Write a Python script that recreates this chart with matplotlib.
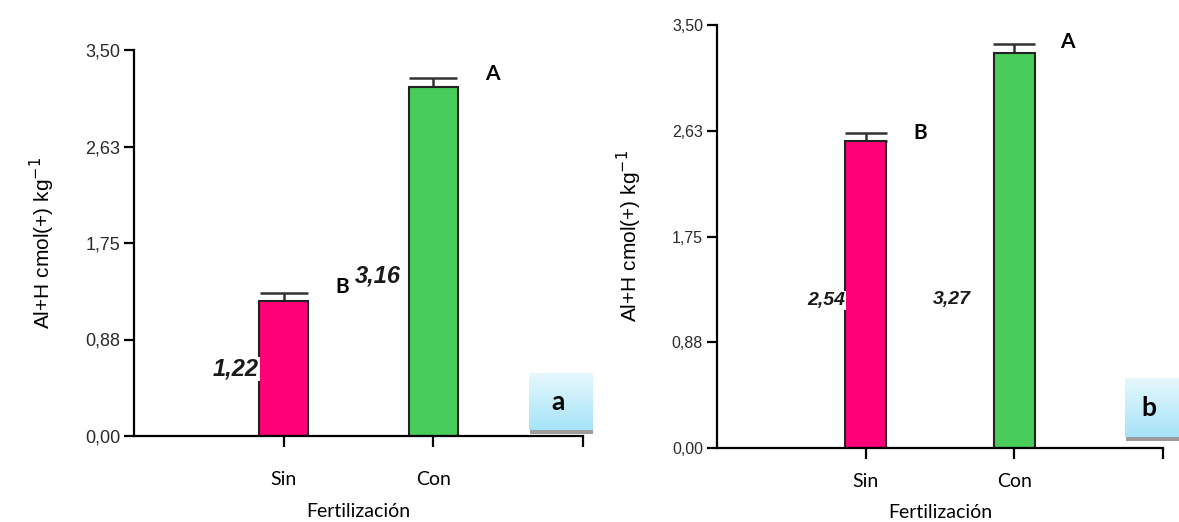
import numpy as np
import matplotlib
matplotlib.use("Agg")
import matplotlib.pyplot as plt
from matplotlib.patches import Rectangle

# Al+H by fertilization treatment, two sampling panels
categories = ["Sin", "Con"]
means_a = [1.22, 3.16]
errors_a = [0.08, 0.09]
letters_a = ["B", "A"]
means_b = [2.54, 3.27]
errors_b = [0.07, 0.07]
letters_b = ["B", "A"]

ytick_values = [0.0, 0.875, 1.75, 2.625, 3.5]
ytick_labels = ["0,00", "0,88", "1,75", "2,63", "3,50"]

bar_colors = ["#FF0078", "#48CD5A"]
W, H = 1179, 522

plt.rcParams["font.family"] = ["Liberation Sans", "DejaVu Sans"]
fig = plt.figure(figsize=(W / 100, H / 100), dpi=100)


def px_axes(x0, y0, x1, y1):
    """Axes from pixel box (left, top, right, bottom measured from top)."""
    return fig.add_axes([x0 / W, (H - y1) / H, (x1 - x0) / W, (y1 - y0) / H])


def draw_panel(ax, means, errors, letters, width, capsize, tick_fs, val_fs,
               val_pos, letter_pos, letter_fs, lab_fs, xpad, xlabpad):
    x = np.arange(1, len(means) + 1)
    ax.bar(x, means, width=width, color=bar_colors, edgecolor="#222222",
           linewidth=1.5, zorder=2)
    ax.errorbar(x, means, yerr=[np.zeros(len(errors)), errors], fmt="none",
                ecolor="#333333", elinewidth=1.8, capsize=capsize,
                capthick=1.8, zorder=1)
    ax.set_xlim(0, 3)
    ax.set_ylim(0, 3.5)
    for side in ("top", "right"):
        ax.spines[side].set_visible(False)
    for side in ("left", "bottom"):
        ax.spines[side].set_linewidth(1.6)
    ax.set_yticks(ytick_values)
    ax.set_yticklabels(ytick_labels, fontsize=tick_fs, color="#2a2a2a")
    ax.set_xticks([1, 2, 3])
    ax.set_xticklabels(categories + [""], fontsize=lab_fs, family="Lato")
    ax.tick_params(axis="y", length=7, width=1.6, pad=3)
    ax.tick_params(axis="x", length=8, width=1.6, pad=xpad)
    ax.set_xlabel("Fertilización", fontsize=lab_fs, family="Lato",
                  labelpad=xlabpad)
    ax.set_ylabel("Al+H cmol(+) kg$^{-1}$", fontsize=15, labelpad=20)

    for xi, m, (dx, fy), bg in zip(x, means, val_pos, (True, False)):
        ax.text(xi - width / 2 + dx, m * fy, f"{m:.2f}".replace(".", ","),
                ha="right", va="center", fontsize=val_fs, fontweight="bold",
                fontstyle="italic", color="#1a1a1a", zorder=3,
                bbox=dict(facecolor="white", edgecolor="none", pad=0.5)
                if bg else None)
    for xi, m, e, let, (dx, dy) in zip(x, means, errors, letters, letter_pos):
        ax.text(xi + width / 2 + dx, m + e + dy, let, ha="left",
                va="center", fontsize=letter_fs, fontweight="bold",
                family="Lato", color="black")


def tag_box(x0, y0, x1, y1, label):
    grad = np.linspace(0, 1, 64).reshape(-1, 1)
    cmap = matplotlib.colors.LinearSegmentedColormap.from_list(
        "sky", ["#E6F8FD", "#A6E3F8"])
    bx = px_axes(x0, y0, x1, y1)
    bx.imshow(grad, cmap=cmap, aspect="auto", extent=(0, 1, 0, 1))
    bx.text(0.45, 0.5, label, ha="center", va="center", fontsize=19,
            fontweight="bold", family="Lato")
    bx.set_axis_off()
    sh = px_axes(x0 + 1, y1, x1, y1 + 4)
    sh.add_patch(Rectangle((0, 0), 1, 1, color="#9c9c9c"))
    sh.set_axis_off()


ax_a = px_axes(134, 50, 583, 436)
draw_panel(ax_a, means_a, errors_a, letters_a, width=0.33, capsize=17.5,
           tick_fs=13, val_fs=17, val_pos=[(0.0, 0.5), (-0.05, 0.46)],
           letter_pos=[(0.18, 0.05), (0.18, 0.03)], letter_fs=15,
           lab_fs=14, xpad=17, xlabpad=11)

ax_b = px_axes(717, 25, 1163, 448)
draw_panel(ax_b, means_b, errors_b, letters_b, width=0.28, capsize=15,
           tick_fs=11.5, val_fs=14, val_pos=[(0.0, 0.48), (-0.15, 0.375)],
           letter_pos=[(0.18, 0.0), (0.17, 0.02)], letter_fs=15,
           lab_fs=14, xpad=10, xlabpad=10)

tag_box(529, 373, 593, 430, "a")
tag_box(1125, 378, 1179, 437, "b")

fig.savefig("out.png", dpi=100)
